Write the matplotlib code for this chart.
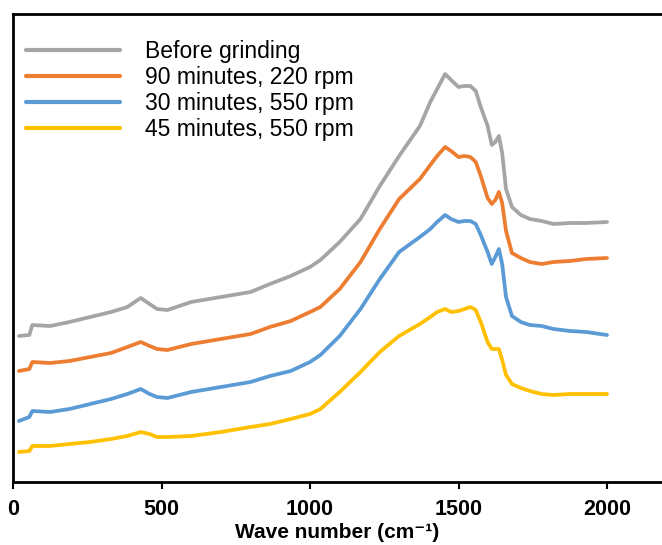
import matplotlib
matplotlib.use("Agg")
import matplotlib.pyplot as plt

plt.rcParams['font.family'] = ['Liberation Sans', 'DejaVu Sans']

# Raman shift (cm-1)
wavenumber = [20, 55, 65, 125, 190, 260, 330, 385, 430, 460, 485, 520, 600, 700,
              800, 865, 935, 1000, 1035, 1100, 1170, 1235, 1300, 1370, 1405, 1428,
              1455, 1475, 1500, 1520, 1540, 1558, 1575, 1598, 1612, 1624, 1636,
              1647, 1660, 1680, 1710, 1740, 1780, 1820, 1875, 1930, 2000]

# Offset intensities (a.u.)
before_grinding = [146, 147, 157, 156, 160, 165, 170, 175, 184, 178, 173, 172, 180, 185,
                   190, 198, 206, 215, 222, 240, 263, 296, 326, 356, 380, 393,
                   408, 402, 395, 396, 396, 391, 375, 356, 337, 340, 346,
                   329, 293, 275, 267, 263, 261, 258, 259, 259, 260]
min90_rpm220 = [111, 113, 120, 119, 121, 125, 129, 135, 140, 136, 133, 132, 138, 143,
                148, 155, 161, 170, 175, 193, 220, 253, 283, 303, 317, 326,
                335, 331, 325, 326, 325, 320, 306, 284, 278, 282, 290,
                279, 251, 229, 224, 220, 218, 220, 221, 223, 224]
min30_rpm550 = [61, 65, 71, 70, 73, 78, 83, 88, 93, 88, 85, 84, 90, 95,
                100, 106, 111, 120, 127, 146, 173, 203, 230, 245, 253, 260,
                267, 263, 260, 261, 261, 258, 247, 230, 218, 225, 233,
                218, 185, 166, 160, 157, 156, 153, 151, 150, 147]
min45_rpm550 = [30, 31, 36, 36, 38, 40, 43, 46, 50, 48, 45, 45, 46, 50,
                55, 58, 63, 68, 73, 90, 110, 130, 146, 158, 165, 170,
                173, 170, 171, 173, 175, 172, 160, 140, 133, 133, 133,
                122, 107, 98, 94, 91, 88, 87, 88, 88, 88]

labels = ["Before grinding", "90 minutes, 220 rpm", "30 minutes, 550 rpm", "45 minutes, 550 rpm"]
colors = ["#A5A5A5", "#ED7D31", "#5B9BD5", "#FFC000"]
series = [before_grinding, min90_rpm220, min30_rpm550, min45_rpm550]

fig = plt.figure(figsize=(6.62, 5.45), dpi=100)
W, H = 662, 545
left, right, top, bottom = 13, 662, 14, 482
ax = fig.add_axes([left / W, 1 - bottom / H, (right - left) / W, (bottom - top) / H])

handles = []
for vals, lab, col in zip(series, labels, colors):
    h, = ax.plot(wavenumber, vals, color=col, lw=2.7, label=lab,
                 solid_joinstyle='round', solid_capstyle='round')
    handles.append(h)

ax.set_xlim(0, (right - left) / 0.297)
ax.set_ylim(0, bottom - top)
ax.set_xticks([0, 500, 1000, 1500, 2000])
ax.set_yticks([])
ax.spines['right'].set_visible(False)
for s in ['left', 'top', 'bottom']:
    ax.spines[s].set_linewidth(2.0)
    ax.spines[s].set_color('black')
ax.tick_params(axis='x', direction='out', length=5, width=1.5, pad=7.5,
               labelsize=15.5)
for t in ax.get_xticklabels():
    t.set_fontweight('bold')
ax.set_xlabel('Wave number (cm\u207b\u00b9)', fontsize=15, fontweight='bold', labelpad=2)

leg = ax.legend(handles=handles, loc='upper left', bbox_to_anchor=(26 / W, 1 - 40 / H),
                bbox_transform=fig.transFigure, frameon=False, fontsize=16.5,
                handlelength=4.1, handletextpad=1.1, labelspacing=0.125,
                borderpad=0, borderaxespad=0)
for line in leg.get_lines():
    line.set_linewidth(3)

fig.savefig("out.png", dpi=100)
